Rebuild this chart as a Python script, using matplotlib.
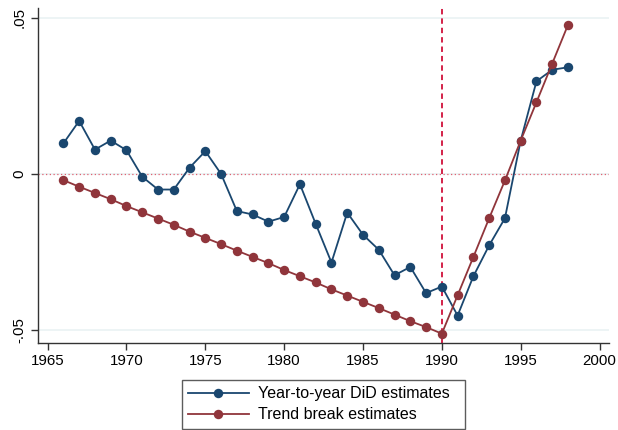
import matplotlib
matplotlib.use("Agg")
import matplotlib.pyplot as plt

plt.rcParams['font.family'] = ['Liberation Sans', 'DejaVu Sans']

years = list(range(1966, 1999))

did_estimates = [
    0.0097, 0.0169, 0.0077, 0.0106, 0.0075, -0.0010, -0.0051, -0.0051,
    0.0019, 0.0072, -0.0001, -0.0120, -0.0131, -0.0154, -0.0139, -0.0034,
    -0.0161, -0.0285, -0.0125, -0.0196, -0.0244, -0.0326, -0.0299, -0.0383,
    -0.0362, -0.0455, -0.0329, -0.0230, -0.0143, 0.0106, 0.0296, 0.0333,
    0.0341,
]

trend_break = [
    -0.0021, -0.0042, -0.0062, -0.0082, -0.0104, -0.0124, -0.0144, -0.0164,
    -0.0186, -0.0206, -0.0226, -0.0247, -0.0267, -0.0287, -0.0309, -0.0329,
    -0.0349, -0.0371, -0.0391, -0.0411, -0.0431, -0.0452, -0.0473, -0.0492,
    -0.0513, -0.0390, -0.0267, -0.0143, -0.0022, 0.0106, 0.0229, 0.0353,
    0.0477,
]

series_labels = ["Year-to-year DiD estimates", "Trend break estimates"]
x_ticks = [1965, 1970, 1975, 1980, 1985, 1990, 1995, 2000]
y_ticks = [-0.05, 0.0, 0.05]
y_tick_labels = ["-.05", "0", ".05"]
break_year = 1990

navy = "#1a476f"
maroon = "#90353b"

W, H = 618, 430
fig = plt.figure(figsize=(W / 100, H / 100), dpi=100)
ax = fig.add_axes([37.7 / W, 1 - 343 / H, (609 - 37.7) / W, (343 - 8) / H])

# light horizontal grid at the labelled y ticks
for yv in y_ticks:
    ax.axhline(yv, color="#eaf2f3", lw=1.2, zorder=0)

ax.axhline(0, color="#e06070", lw=0.9, ls=(0, (1, 2)), zorder=1)
ax.axvline(break_year, color="#d0103a", lw=1.3, ls=(0, (3, 2.2)), zorder=1)

ax.plot(years, did_estimates, color=navy, lw=1.3, marker="o", ms=6.8,
        markeredgewidth=0, label=series_labels[0], zorder=3)
ax.plot(years, trend_break, color=maroon, lw=1.3, marker="o", ms=6.8,
        markeredgewidth=0, label=series_labels[1], zorder=4)

ax.set_xlim(1964.37, 2000.6)
ax.set_ylim(-0.0543, 0.0531)

ax.set_xticks(x_ticks)
ax.set_xticklabels([str(t) for t in x_ticks])
ax.set_yticks(y_ticks)
ax.set_yticklabels(y_tick_labels, rotation=90, va="center")

for side in ("top", "right"):
    ax.spines[side].set_visible(False)
for side in ("left", "bottom"):
    ax.spines[side].set_color("#333333")
    ax.spines[side].set_linewidth(1.0)

ax.tick_params(axis="both", direction="out", length=5, width=1.0,
               color="#333333", labelsize=10.8, labelcolor="black", pad=3)

# legend box below the plot, running off the bottom edge
leg_x0, leg_x1, leg_top = 181.7, 465.0, 380.0
leg = fig.legend(loc="upper left",
                 bbox_to_anchor=(leg_x0 / W, 1 - leg_top / H - 0.2,
                                 (leg_x1 - leg_x0) / W, 0.2),
                 mode="expand",
                 frameon=True, fancybox=False, fontsize=11.5,
                 handlelength=3.8, handletextpad=0.6, borderpad=0.4,
                 labelspacing=0.38, borderaxespad=0)
leg.get_frame().set_edgecolor("#333333")
leg.get_frame().set_linewidth(1.0)

fig.savefig("out.png", dpi=100)
